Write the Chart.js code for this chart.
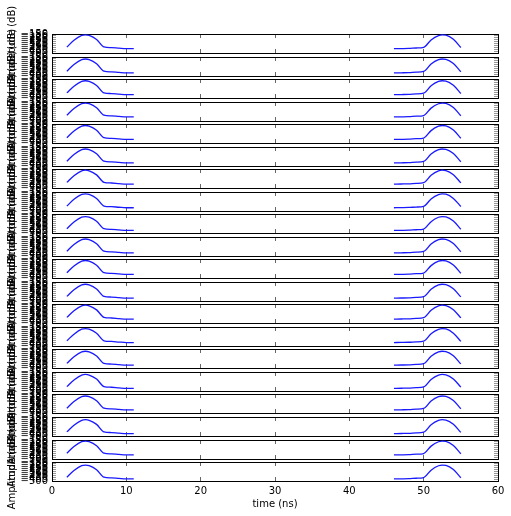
<!DOCTYPE html>
<html>
<head>
<meta charset="utf-8">
<style>
html,body{margin:0;padding:0;background:#fff;width:511px;height:516px;overflow:hidden}
canvas{position:absolute;left:0;top:0}
</style>
<script src="https://cdn.jsdelivr.net/npm/chart.js@4"></script>
</head>
<body>
<script>
const timeLeft  = [2,3,4,4.5,5,6,7,8,9,10,11];
const timeRight = [46,47,48,49,50,51,52,52.5,53,54,55];
const xTicks = [0,10,20,30,40,50,60];
const yTicks = [-500,-465,-430,-395,-360,-325,-290,-255,-220,-185,-150];
const xLabel = 'time (ns)';
const yLabel = 'Amplitude (dB)';

const left01=[-389,-262,-176,-165,-176,-251,-389,-401,-412,-421,-421];
const right01=[-421,-419,-416,-408,-395,-259,-178,-165,-171,-249,-399];
const left02=[-411,-284,-198,-187,-198,-273,-411,-423,-434,-443,-443];
const right02=[-443,-441,-438,-430,-417,-281,-200,-187,-193,-271,-421];
const left03=[-406,-279,-193,-182,-193,-268,-406,-418,-429,-438,-438];
const right03=[-438,-436,-433,-425,-412,-276,-195,-182,-188,-266,-416];
const left04=[-393,-266,-180,-169,-180,-255,-393,-405,-416,-425,-425];
const right04=[-425,-423,-420,-412,-399,-263,-182,-169,-175,-253,-403];
const left05=[-402,-275,-189,-178,-189,-264,-402,-414,-425,-434,-434];
const right05=[-434,-432,-429,-421,-408,-272,-191,-178,-184,-262,-412];
const left06=[-411,-284,-198,-187,-198,-273,-411,-423,-434,-443,-443];
const right06=[-443,-441,-438,-430,-417,-281,-200,-187,-193,-271,-421];
const left07=[-396,-269,-183,-172,-183,-258,-396,-408,-419,-428,-428];
const right07=[-428,-426,-423,-415,-402,-266,-185,-172,-178,-256,-406];
const left08=[-408,-281,-195,-184,-195,-270,-408,-420,-431,-440,-440];
const right08=[-440,-438,-435,-427,-414,-278,-197,-184,-190,-268,-418];
const left09=[-421,-294,-208,-197,-208,-283,-421,-433,-444,-453,-453];
const right09=[-453,-451,-448,-440,-427,-291,-210,-197,-203,-281,-431];
const left10=[-411,-284,-198,-187,-198,-273,-411,-423,-434,-443,-443];
const right10=[-443,-441,-438,-430,-417,-281,-200,-187,-193,-271,-421];
const left11=[-402,-275,-189,-178,-189,-264,-402,-414,-425,-434,-434];
const right11=[-434,-432,-429,-421,-408,-272,-191,-178,-184,-262,-412];
const left12=[-415,-288,-202,-191,-202,-277,-415,-427,-438,-447,-447];
const right12=[-447,-445,-442,-434,-421,-285,-204,-191,-197,-275,-425];
const left13=[-396,-269,-183,-172,-183,-258,-396,-408,-419,-428,-428];
const right13=[-428,-426,-423,-415,-402,-266,-185,-172,-178,-256,-406];
const left14=[-404,-277,-191,-180,-191,-266,-404,-416,-427,-436,-436];
const right14=[-436,-434,-431,-423,-410,-274,-193,-180,-186,-264,-414];
const left15=[-415,-288,-202,-191,-202,-277,-415,-427,-438,-447,-447];
const right15=[-447,-445,-442,-434,-421,-285,-204,-191,-197,-275,-425];
const left16=[-419,-292,-206,-195,-206,-281,-419,-431,-442,-451,-451];
const right16=[-451,-449,-446,-438,-425,-289,-208,-195,-201,-279,-429];
const left17=[-411,-284,-198,-187,-198,-273,-411,-423,-434,-443,-443];
const right17=[-443,-441,-438,-430,-417,-281,-200,-187,-193,-271,-421];
const left18=[-424,-297,-211,-200,-211,-286,-424,-436,-447,-456,-456];
const right18=[-456,-454,-451,-443,-430,-294,-213,-200,-206,-284,-434];
const left19=[-393,-266,-180,-169,-180,-255,-393,-405,-416,-425,-425];
const right19=[-425,-423,-420,-412,-399,-263,-182,-169,-175,-253,-403];
const left20=[-430,-303,-217,-206,-217,-292,-430,-442,-453,-462,-462];
const right20=[-462,-460,-457,-449,-436,-300,-219,-206,-212,-290,-440];

const leftSeries=[left01,left02,left03,left04,left05,left06,left07,left08,left09,left10,left11,left12,left13,left14,left15,left16,left17,left18,left19,left20];
const rightSeries=[right01,right02,right03,right04,right05,right06,right07,right08,right09,right10,right11,right12,right13,right14,right15,right16,right17,right18,right19,right20];

const W=511,H=516,FONT='"DejaVu Sans"',TICK='rgba(0,0,0,0.6)',YTICK='rgba(0,0,0,0.4)';
const plotLeft=52,plotRight=498,firstTop=34,pitch=22.53,plotH=19;
Chart.defaults.font.family=FONT;
Chart.defaults.font.size=10;
Chart.defaults.color='#000';

function fixedAxis(size){
  return function(scale){
    if(scale.isHorizontal()) scale.height=size; else scale.width=size;
    scale.paddingLeft=scale.paddingRight=scale.paddingTop=scale.paddingBottom=0;
  };
}
function setTicks(values){return function(scale){scale.ticks=values.map(v=>({value:v}));};}
function grid(len,color){return {drawOnChartArea:false,drawTicks:true,tickLength:len,tickColor:color,tickWidth:1};}
const border={display:true,color:'#000',width:1};

leftSeries.forEach(function(lv,i){
  const isLast=i===leftSeries.length-1;
  const cv=document.createElement('canvas');
  cv.width=W;cv.height=H;cv.style.width=W+'px';cv.style.height=H+'px';
  document.body.appendChild(cv);
  const top=Math.round(firstTop+pitch*i);
  const xH=isLast?29:0;
  new Chart(cv,{
    type:'line',
    data:{datasets:[
      {data:timeLeft.map((x,k)=>({x:x,y:lv[k]}))},
      {data:timeRight.map((x,k)=>({x:x,y:rightSeries[i][k]}))}
    ]},
    options:{
      responsive:false,animation:false,devicePixelRatio:1,
      layout:{padding:{top:top,bottom:H-top-plotH-xH,left:0,right:0}},
      plugins:{legend:{display:false},tooltip:{enabled:false},title:{display:false}},
      elements:{point:{radius:0},line:{borderColor:'#1a1aff',borderWidth:1.3,cubicInterpolationMode:'monotone',fill:false}},
      scales:{
        x:{type:'linear',position:'bottom',min:0,max:60,afterBuildTicks:setTicks(xTicks),afterFit:fixedAxis(xH),
           grid:grid(-4,TICK),border:border,
           ticks:{display:isLast,autoSkip:false,maxRotation:0,padding:8,color:'#000',callback:v=>String(v)},
           title:{display:isLast,text:xLabel,color:'#000',font:{size:10},padding:{top:0,bottom:0}}},
        x2:{type:'linear',position:'top',min:0,max:60,afterBuildTicks:setTicks(xTicks),afterFit:fixedAxis(0),
           grid:grid(-4,TICK),border:border,ticks:{display:false}},
        y:{type:'linear',position:'left',min:-500,max:-150,afterBuildTicks:setTicks(yTicks),afterFit:fixedAxis(plotLeft),
           grid:grid(-4,YTICK),border:border,
           ticks:{autoSkip:false,padding:8,color:'#000',callback:v=>String(v).replace('-','\u2212')},
           title:{display:true,text:yLabel,color:'#000',font:{size:10},padding:{top:6,bottom:0}}},
        y2:{type:'linear',position:'right',min:-500,max:-150,afterBuildTicks:setTicks(yTicks),afterFit:fixedAxis(W-plotRight),
           grid:grid(-4,YTICK),border:border,ticks:{display:false}}
      }
    }
  });
});
</script>
</body>
</html>
